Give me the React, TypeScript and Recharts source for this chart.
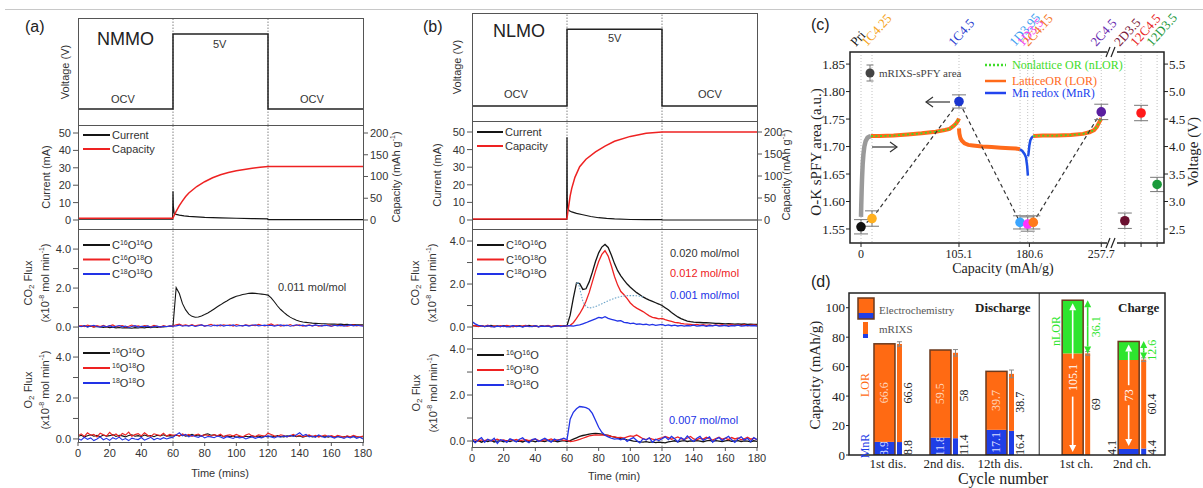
import React from 'react';
import {
  LineChart,
  Line,
  XAxis,
  YAxis,
  ReferenceLine,
  ComposedChart,
  Scatter,
  ErrorBar,
  Bar,
} from 'recharts';

const SANS = '"Liberation Sans", Arial, Helvetica, sans-serif';
const SERIF = '"Liberation Serif", "Times New Roman", Times, serif';
const INK = '#333';
const FRAME = '#555';
const BLACK = '#151515';
const RED = '#ee2222';
const BLUE = '#2233e6';

// ---------- (a) / (b) DEMS traces, sampled every 2 min
const FLUX_T = [
  0, 2, 4, 6, 8, 10, 12, 14, 16, 18, 20, 22, 24, 26, 28, 30, 32, 34, 36, 38, 40, 42, 44, 46, 48, 50, 52, 54, 56, 58,
  60, 62, 64, 66, 68, 70, 72, 74, 76, 78, 80, 82, 84, 86, 88, 90, 92, 94, 96, 98, 100, 102, 104, 106, 108, 110, 112,
  114, 116, 118, 120, 122, 124, 126, 128, 130, 132, 134, 136, 138, 140, 142, 144, 146, 148, 150, 152, 154, 156, 158,
  160, 162, 164, 166, 168, 170, 172, 174, 176, 178, 180,
];
const TIME_TICKS = [0, 20, 40, 60, 80, 100, 120, 140, 160, 180];
const GUIDE_T = [60, 120];

const STEP_T = [0, 60, 120, 180];
const STEP_V = [0, 1, 0, 0];

// NMMO
const CUR_A_T = [0, 59.8, 60, 60.2, 60.6, 61, 62, 64, 67, 70, 75, 80, 90, 100, 110, 119.8, 120, 180];
const CUR_A = [0.5, 0.5, 16.5, 8, 4.5, 3.6, 3.2, 2.8, 2.4, 2.1, 1.8, 1.5, 1.2, 1.0, 0.8, 0.6, 0.2, 0.2];
const CAP_A_T = [0, 59.8, 60, 62, 64, 66, 68, 70, 75, 80, 85, 90, 95, 100, 105, 110, 115, 120, 180];
const CAP_A = [4, 4, 5, 20, 33, 44, 54, 62, 77, 88, 97, 104, 109, 113, 116, 119, 121, 123, 123];

const A_CO2_44 = [
  0.05, 0.03, 0.06, 0.02, 0.04, 0.01, 0.03, 0.0, -0.02, 0.01, -0.03, -0.01, -0.04, -0.02, -0.05, -0.03, -0.04, -0.06,
  -0.03, -0.05, -0.02, -0.04, -0.01, -0.03, 0.0, -0.02, 0.02, 0.0, 0.03, 0.04, 0.05,
  2.02, 1.72, 1.2, 0.88, 0.66, 0.55, 0.5, 0.52, 0.57, 0.64, 0.72, 0.82, 0.93, 1.04, 1.14, 1.25, 1.34, 1.44, 1.51, 1.58,
  1.62, 1.67, 1.7, 1.73, 1.74, 1.73, 1.71, 1.69, 1.67, 1.64,
  1.5, 1.3, 1.08, 0.9, 0.75, 0.62, 0.51, 0.42, 0.35, 0.3, 0.26, 0.24, 0.22, 0.2, 0.19, 0.18, 0.17, 0.17, 0.16, 0.15,
  0.16, 0.14, 0.15, 0.13, 0.14, 0.12, 0.13, 0.12, 0.11, 0.12,
];
const A_CO2_46 = [
  0.04, 0.08, 0.02, 0.1, 0.05, 0.0, 0.07, 0.03, 0.09, 0.01, 0.06, 0.11, 0.02, 0.05, 0.08, 0.0, 0.04, 0.1, 0.03, 0.06,
  0.01, 0.08, 0.05, 0.02, 0.09, 0.04, 0.0, 0.07, 0.03, 0.05, 0.06,
  0.12, 0.15, 0.08, 0.11, 0.07, 0.13, 0.06, 0.1, 0.12, 0.05, 0.09, 0.14, 0.07, 0.1, 0.06, 0.12, 0.08, 0.11, 0.05, 0.13,
  0.09, 0.06, 0.12, 0.08, 0.1, 0.07, 0.14, 0.09, 0.06, 0.11,
  0.16, 0.08, 0.12, 0.05, 0.1, 0.07, 0.13, 0.06, 0.09, 0.11, 0.05, 0.08, 0.12, 0.06, 0.1, 0.04, 0.09, 0.07, 0.11, 0.05,
  0.08, 0.1, 0.06, 0.09, 0.04, 0.08, 0.11, 0.06, 0.09, 0.07,
];
const A_CO2_48 = [
  0.06, 0.02, 0.08, 0.0, 0.05, 0.09, 0.03, -0.01, 0.06, 0.02, 0.07, 0.0, 0.04, 0.08, 0.01, 0.05, -0.02, 0.03, 0.07, 0.0,
  0.04, 0.02, 0.06, -0.01, 0.03, 0.05, 0.0, 0.04, 0.02, 0.06, 0.04,
  0.06, 0.1, 0.04, 0.08, 0.05, 0.09, 0.03, 0.07, 0.11, 0.05, 0.08, 0.04, 0.1, 0.06, 0.12, 0.05, 0.09, 0.07, 0.11, 0.04,
  0.08, 0.06, 0.1, 0.05, 0.09, 0.12, 0.06, 0.08, 0.1, 0.07,
  0.09, 0.05, 0.08, 0.11, 0.06, 0.1, 0.04, 0.08, 0.12, 0.07, 0.1, 0.05, 0.09, 0.06, 0.11, 0.08, 0.05, 0.1, 0.07, 0.04,
  0.09, 0.06, 0.1, 0.05, 0.08, 0.11, 0.06, 0.09, 0.07, 0.05,
];
const A_O2_32 = [
  0.12, 0.18, 0.1, 0.16, 0.2, 0.13, 0.17, 0.11, 0.19, 0.14, 0.16, 0.21, 0.12, 0.18, 0.15, 0.1, 0.17, 0.2, 0.13, 0.16,
  0.12, 0.19, 0.14, 0.17, 0.11, 0.18, 0.15, 0.2, 0.13, 0.16, 0.14,
  0.18, 0.15, 0.2, 0.13, 0.17, 0.22, 0.16, 0.19, 0.14, 0.21, 0.25, 0.18, 0.2, 0.15, 0.17, 0.12, 0.16, 0.1, 0.14, 0.08,
  0.12, 0.09, 0.13, 0.1, 0.15, 0.11, 0.14, 0.09, 0.13, 0.1,
  0.14, 0.11, 0.16, 0.12, 0.1, 0.15, 0.13, 0.17, 0.11, 0.14, 0.09, 0.13, 0.16, 0.1, 0.12, 0.15, 0.11, 0.14, 0.09, 0.13,
  0.1, 0.12, 0.08, 0.11, 0.13, 0.09, 0.12, 0.1, 0.08, 0.11,
];
const A_O2_34 = [
  0.15, 0.25, 0.12, 0.3, 0.18, 0.22, 0.1, 0.28, 0.2, 0.14, 0.32, 0.16, 0.24, 0.11, 0.27, 0.19, 0.33, 0.13, 0.21, 0.26,
  0.15, 0.3, 0.18, 0.12, 0.25, 0.2, 0.16, 0.28, 0.14, 0.22, 0.18,
  0.2, 0.14, 0.25, 0.17, 0.22, 0.12, 0.19, 0.24, 0.15, 0.2, 0.18, 0.13, 0.21, 0.16, 0.23, 0.11, 0.18, 0.2, 0.14, 0.22,
  0.16, 0.1, 0.19, 0.25, 0.15, 0.12, 0.2, 0.17, 0.14, 0.28,
  0.22, 0.15, 0.12, 0.2, 0.17, 0.1, 0.16, 0.22, 0.13, 0.18, 0.11, 0.15, 0.2, 0.12, 0.17, 0.09, 0.14, 0.19, 0.12, 0.16,
  0.1, 0.18, 0.13, 0.08, 0.15, 0.11, 0.17, 0.12, 0.09, 0.14,
];
const A_O2_36 = [
  0.02, -0.06, 0.08, -0.02, 0.05, -0.08, 0.0, 0.1, -0.04, 0.03, -0.07, 0.06, -0.01, 0.09, -0.05, 0.02, -0.08, 0.04, 0.0,
  -0.03, 0.07, -0.06, 0.01, 0.08, -0.04, 0.03, -0.02, 0.06, 0.0, 0.05, 0.08,
  0.2, 0.3, 0.15, 0.22, 0.1, 0.18, 0.12, 0.08, 0.16, 0.05, 0.12, 0.1, 0.06, 0.14, 0.09, 0.03, 0.11, 0.07, 0.02, 0.1,
  0.05, 0.08, 0.0, 0.06, 0.1, 0.03, 0.08, 0.05, 0.12, 0.15,
  0.1, 0.05, 0.12, 0.08, 0.15, 0.1, 0.18, 0.12, 0.2, 0.3, 0.16, 0.22, 0.1, 0.14, 0.08, 0.2, 0.12, 0.06, 0.15, 0.1,
  0.04, 0.12, 0.08, 0.02, 0.1, 0.05, 0.12, 0.03, 0.08, 0.0,
];

// NLMO
const CUR_B_T = [0, 59.8, 60, 60.15, 60.4, 60.8, 61.5, 63, 66, 70, 75, 80, 85, 90, 100, 110, 119.8, 120, 180];
const CUR_B = [0.3, 0.3, 47, 12, 7.5, 6, 5.3, 4.6, 3.8, 3.0, 2.0, 1.3, 0.9, 0.6, 0.3, 0.2, 0.2, 0, 0];
const CAP_B_T = [0, 59.8, 60, 60.5, 61, 62, 63, 65, 68, 72, 78, 84, 90, 100, 110, 120, 180];
const CAP_B = [2, 2, 4, 18, 30, 55, 72, 97, 121, 138, 155, 168, 179, 190, 197, 200, 200];

const B_CO2_44 = [
  0.08, 0.05, 0.03, 0.06, 0.02, 0.04, 0.07, 0.03, 0.05, 0.02, 0.06, 0.04, 0.01, 0.05, 0.03, 0.06, 0.02, 0.04, 0.07,
  0.03, 0.05, 0.02, 0.06, 0.03, 0.05, 0.02, 0.04, 0.06, 0.03, 0.05, 0.06,
  0.55, 1.35, 2.05, 2.02, 1.75, 1.78, 2.1, 2.55, 3.05, 3.45, 3.72, 3.84, 3.7, 3.35, 2.95, 2.62, 2.38, 2.18, 2.0, 1.85,
  1.72, 1.6, 1.5, 1.4, 1.32, 1.25, 1.19, 1.13, 1.07, 1.0,
  0.9, 0.8, 0.68, 0.57, 0.47, 0.39, 0.33, 0.28, 0.25, 0.23, 0.22, 0.21, 0.2, 0.2, 0.19, 0.18, 0.17, 0.17, 0.16, 0.15,
  0.16, 0.15, 0.14, 0.15, 0.13, 0.14, 0.12, 0.13, 0.12, 0.12,
];
const B_CO2_46 = [
  0.04, 0.07, 0.02, 0.06, 0.03, 0.08, 0.01, 0.05, 0.03, 0.06, 0.02, 0.07, 0.04, 0.01, 0.06, 0.03, 0.05, 0.08, 0.02,
  0.04, 0.06, 0.01, 0.05, 0.03, 0.07, 0.02, 0.05, 0.04, 0.06, 0.03, 0.05,
  0.08, 0.2, 0.4, 0.62, 0.88, 1.2, 1.6, 2.1, 2.6, 3.05, 3.38, 3.55, 3.3, 2.85, 2.35, 1.95, 1.65, 1.5, 1.32, 1.12, 0.98,
  0.88, 0.8, 0.72, 0.62, 0.52, 0.45, 0.42, 0.38, 0.4,
  0.34, 0.3, 0.26, 0.22, 0.2, 0.17, 0.15, 0.14, 0.12, 0.1, 0.12, 0.09, 0.11, 0.08, 0.1, 0.07, 0.1, 0.08, 0.11, 0.07,
  0.09, 0.12, 0.07, 0.1, 0.08, 0.11, 0.06, 0.09, 0.1, 0.08,
];
const B_CO2_48 = [
  0.25, 0.15, 0.08, 0.05, 0.02, 0.06, 0.03, 0.0, 0.04, 0.02, 0.05, 0.01, 0.03, 0.06, 0.02, 0.04, 0.0, 0.05, 0.03, 0.02,
  0.06, 0.01, 0.04, 0.03, 0.05, 0.0, 0.03, 0.06, 0.02, 0.04, 0.05,
  0.06, 0.04, 0.08, 0.1, 0.15, 0.2, 0.26, 0.32, 0.38, 0.45, 0.42, 0.48, 0.4, 0.36, 0.32, 0.28, 0.3, 0.22, 0.2, 0.16,
  0.18, 0.13, 0.15, 0.11, 0.13, 0.09, 0.12, 0.08, 0.1, 0.12,
  0.07, 0.1, 0.06, 0.09, 0.05, 0.08, 0.04, 0.07, 0.05, 0.09, 0.04, 0.06, 0.08, 0.03, 0.07, 0.05, 0.09, 0.04, 0.06, 0.08,
  0.03, 0.07, 0.05, 0.09, 0.04, 0.06, 0.08, 0.05, 0.07, 0.04,
];
// deconvolution of the C16O16O trace (dotted)
const B_FIT_T = [66, 67, 68, 70, 72, 74, 78, 82, 86, 90, 94, 98, 102, 105, 108];
const B_FIT = [2.0, 2.1, 1.8, 1.2, 0.95, 0.88, 0.95, 1.08, 1.22, 1.34, 1.42, 1.46, 1.46, 1.45, 1.4];

const B_O2_32 = [
  0.0, -0.03, 0.02, -0.05, 0.01, -0.02, 0.03, -0.04, 0.0, 0.02, -0.03, 0.01, -0.02, 0.03, -0.01, 0.0, -0.04, 0.02, -0.01,
  0.01, -0.03, 0.02, 0.0, -0.02, 0.03, -0.01, 0.01, -0.03, 0.0, 0.02, -0.02,
  0.02, 0.08, 0.14, 0.2, 0.24, 0.27, 0.3, 0.32, 0.33, 0.32, 0.3, 0.27, 0.24, 0.2, 0.17, 0.14, 0.1, 0.08, 0.05, 0.03,
  0.0, -0.02, -0.04, -0.05, -0.03, -0.06, -0.04, -0.07, -0.05, -0.06,
  -0.08, -0.04, -0.02, 0.01, -0.03, 0.0, 0.02, -0.02, 0.01, -0.01, 0.02, 0.0, -0.03, 0.01, 0.03, -0.01, 0.02, 0.0,
  -0.02, 0.01, 0.03, -0.01, 0.0, 0.02, -0.02, 0.01, 0.0, -0.03, 0.01, -0.02,
];
const B_O2_34 = [
  0.03, 0.06, 0.0, 0.05, 0.02, 0.07, 0.01, 0.04, 0.08, 0.02, 0.05, 0.0, 0.06, 0.03, 0.07, 0.01, 0.04, 0.06, 0.02, 0.05,
  0.08, 0.03, 0.01, 0.06, 0.04, 0.09, 0.02, 0.05, 0.07, 0.03, 0.04,
  -0.02, 0.0, 0.03, 0.07, 0.12, 0.17, 0.22, 0.25, 0.27, 0.26, 0.27, 0.25, 0.24, 0.2, 0.18, 0.15, 0.16, 0.13, 0.18, 0.22,
  0.2, 0.26, 0.18, 0.1, 0.06, 0.12, 0.08, 0.05, 0.1, 0.14,
  0.2, 0.15, 0.08, 0.12, 0.18, 0.1, 0.06, 0.13, 0.2, 0.09, 0.05, 0.12, 0.08, 0.16, 0.1, 0.04, 0.11, 0.17, 0.08, 0.12,
  0.06, 0.15, 0.09, 0.13, 0.05, 0.1, 0.16, 0.08, 0.12, 0.06,
];
const B_O2_36 = [
  0.1, -0.08, 0.05, 0.15, -0.05, 0.08, 0.0, 0.12, -0.1, 0.06, 0.02, -0.06, 0.1, 0.04, -0.04, 0.08, 0.14, 0.0, -0.07,
  0.06, 0.1, -0.02, 0.05, 0.12, 0.03, -0.05, 0.09, 0.02, 0.07, 0.12, 0.05,
  0.95, 1.25, 1.4, 1.5, 1.48, 1.45, 1.38, 1.2, 0.9, 0.6, 0.38, 0.25, 0.18, 0.12, 0.08, 0.1, 0.05, 0.12, -0.02, 0.08,
  0.15, 0.02, -0.08, 0.1, 0.04, 0.14, -0.05, 0.08, 0.02, 0.1,
  0.18, 0.06, 0.2, 0.1, -0.04, 0.15, 0.05, 0.22, 0.08, -0.02, 0.12, 0.2, 0.03, 0.1, 0.18, -0.05, 0.08, 0.15, 0.02, 0.12,
  0.2, 0.05, -0.06, 0.1, 0.18, 0.04, 0.12, -0.03, 0.15, 0.06,
];

// ---------- (c) O-K sPFY area and voltage profile
const POINT_LABELS = ['Pri', '1C4.25', '1C4.5', '1D3.95', '1D3.5', '2C4.15', '2C4.5', '2D3.5', '12C4.5', '12D3.5'];
const POINT_POS = [0, 11.8, 105.1, 170.6, 178.8, 184.8, 257.7, 283, 300.4, 317.6];
const POINT_AREA = [1.554, 1.569, 1.782, 1.562, 1.559, 1.562, 1.763, 1.565, 1.761, 1.631];
const POINT_ERR = [0.013, 0.014, 0.012, 0.012, 0.013, 0.012, 0.014, 0.014, 0.014, 0.013];
const POINT_FILL = ['#111', '#ffb020', '#1a35d0', '#3aa5ff', '#ff33ff', '#ff7a1a', '#5a1fa0', '#6a1030', '#ff1a1a', '#1a9a3a'];
const POINT_TEXT = ['#111', '#f5a31a', '#2b3fd0', '#3fa0f0', '#f03cf0', '#f57a2a', '#6a2bb0', '#7a1a3a', '#e82828', '#1f9a40'];
const PATH_COUNT = 7; // samples joined by the dashed guide

const CAP_LABELS = [0, 105.1, 180.6, 257.7];
const CAP_TICKS = [0, 105.1, 180.6, 257.7, 283, 300.4, 317.6];
const AREA_TICKS = [1.55, 1.6, 1.65, 1.7, 1.75, 1.8, 1.85];
const VOLT_TICKS = [2.5, 3, 3.5, 4, 4.5, 5, 5.5];

const V_GRAY_C = [0, 0.3, 0.7, 1.2, 1.8, 2.6, 3.6, 5, 7, 9, 10.7];
const V_GRAY = [2.72, 2.95, 3.2, 3.45, 3.68, 3.86, 4.0, 4.1, 4.16, 4.18, 4.19];
const V_CH1_C = [10.7, 20, 35, 50, 65, 80, 90, 95, 99, 102, 104, 105.1];
const V_CH1 = [4.19, 4.19, 4.2, 4.22, 4.24, 4.27, 4.3, 4.32, 4.37, 4.42, 4.47, 4.51];
const V_DIS1_C = [105.1, 105.5, 106.5, 108, 111, 115, 120, 130, 140, 150, 160, 166, 170.5];
const V_DIS1 = [4.33, 4.24, 4.16, 4.11, 4.06, 4.03, 4.02, 4.0, 3.99, 3.98, 3.97, 3.965, 3.95];
const V_MNR1_C = [170.5, 173, 175.5, 177, 178.2, 179];
const V_MNR1 = [3.95, 3.92, 3.86, 3.8, 3.65, 3.47];
const V_MNR2_C = [179, 179.6, 180.6, 181.6, 183, 184.8];
const V_MNR2 = [3.82, 3.86, 4.02, 4.11, 4.16, 4.19];
const V_CH2_C = [184.8, 195, 210, 225, 238, 245, 250, 253, 255.5, 257.7];
const V_CH2 = [4.19, 4.2, 4.2, 4.21, 4.23, 4.26, 4.3, 4.36, 4.44, 4.51];

// ---------- (d) capacity decomposition
const CYCLES = ['1st dis.', '2nd dis.', '12th dis.', '1st ch.', '2nd ch.'];
const CYCLE_POS = [1, 2, 3, 4.36, 5.36];
const PHASE = ['dis', 'dis', 'dis', 'ch', 'ch'];
const EC_MNR = [8.9, 11.8, 17.1, 0, 4.1];
const EC_LOR = [66.6, 59.5, 39.7, 69, 60.4];
const EC_NLOR = [0, 0, 0, 36.1, 12.6];
const RX_MNR = [8.8, 11.4, 16.4, 0, 4.4];
const RX_LOR = [66.6, 58, 38.7, 69, 60.4];
const RX_ERR = [1.5, 2.2, 2.6, 1.2, 1.2];
const DIVIDER = 3.7;

const BAR_ORANGE = '#ff6a13';
const BAR_BLUE = '#1f3ee6';
const BAR_GREEN = '#2ee52e';
const BAR_EDGE = '#6b3a1e';
const LOR_LINE = '#ff6a1a';
const NLOR_LINE = '#3fdc2a';

const zip = (ts: number[], vs: number[]) => vs.map((v, i) => ({ t: ts[i], v }));
const capRows = (cs: number[], vs: number[]) => vs.map((v, i) => ({ c: cs[i], v }));

const LW = 40;
const RW = 40;
const TICK = { fontSize: 11, fill: INK, fontFamily: SANS };
const fluxFmt = (v: number) => (v % 2 === 0 ? v.toFixed(1) : '');

function Strip({ l, t, r, b, rw = 0, bh = 0, pr = 0, children }: any) {
  return (
    <div style={{ position: 'absolute', left: l - LW, top: t }}>
      <LineChart
        width={r - l + LW + rw + pr}
        height={b - t + bh}
        margin={{ top: 0, right: pr, bottom: 0, left: 0 }}
      >
        {children}
      </LineChart>
    </div>
  );
}

const timeAxis = (show: boolean) => (
  <XAxis
    dataKey="t"
    type="number"
    domain={[0, 180]}
    allowDataOverflow
    hide={!show}
    height={show ? 26 : 0}
    ticks={TIME_TICKS}
    interval={0}
    tick={TICK}
    tickSize={4}
    tickMargin={3}
    tickLine={{ stroke: FRAME }}
    axisLine={false}
  />
);

const leftAxis = (domain: number[], ticks?: number[], fmt?: (v: number) => string) => (
  <YAxis
    yAxisId="l"
    width={LW}
    type="number"
    domain={domain}
    allowDataOverflow
    ticks={ticks}
    interval={0}
    tickFormatter={fmt}
    tick={ticks ? TICK : false}
    tickLine={ticks ? { stroke: FRAME } : false}
    axisLine={false}
    tickSize={5}
    tickMargin={2}
  />
);

const guides = () =>
  GUIDE_T.map((x) => (
    <ReferenceLine key={`g${x}`} yAxisId="l" x={x} stroke="#666" strokeDasharray="1.5 1.5" strokeWidth={0.8} />
  ));

const trace = (key: string, rows: any[], color: string, width = 1.1, yAxisId = 'l', extra: any = {}) => (
  <Line
    key={key}
    yAxisId={yAxisId}
    data={rows}
    dataKey="v"
    stroke={color}
    strokeWidth={width}
    dot={false}
    isAnimationActive={false}
    type="linear"
    {...extra}
  />
);

// ---------- small SVG helpers
function VText({ x, y, size = 11, color = INK, family = SANS, weight = 'normal', children }: any) {
  return (
    <text
      x={x}
      y={y}
      transform={`rotate(-90 ${x} ${y})`}
      textAnchor="middle"
      dominantBaseline="central"
      fontSize={size}
      fill={color}
      fontFamily={family}
      fontWeight={weight}
    >
      {children}
    </text>
  );
}

function IsoText({ x, y, parts, color = INK }: any) {
  let up = false;
  return (
    <text x={x} y={y} fontSize={11} fill={color} fontFamily={SANS}>
      {parts.map(([s, sup]: [string, boolean], k: number) => {
        const dy = sup && !up ? -4 : !sup && up ? 4 : 0;
        up = sup;
        return (
          <tspan key={k} dy={dy} fontSize={sup ? 7 : 11}>
            {s}
          </tspan>
        );
      })}
    </text>
  );
}

function Key({ x, y, color, parts }: any) {
  return (
    <g>
      <line x1={x} y1={y} x2={x + 27} y2={y} stroke={color} strokeWidth={2} />
      <IsoText x={x + 29} y={y + 4} parts={parts} />
    </g>
  );
}

function FluxLabel({ x, y, gas }: any) {
  return (
    <g>
      <VText x={x} y={y}>
        {gas}
        <tspan dy={3} fontSize={8}>
          2
        </tspan>
        <tspan dy={-3}> Flux</tspan>
      </VText>
      <VText x={x + 17} y={y}>
        (x10
        <tspan dy={-4} fontSize={7}>
          -8
        </tspan>
        <tspan dy={4}> mol min</tspan>
        <tspan dy={-4} fontSize={7}>
          -1
        </tspan>
        <tspan dy={4}>)</tspan>
      </VText>
    </g>
  );
}

const P = (s: string): [string, boolean] => [s, true];
const N = (s: string): [string, boolean] => [s, false];
const K_CO2 = [
  [N('C'), P('16'), N('O'), P('16'), N('O')],
  [N('C'), P('16'), N('O'), P('18'), N('O')],
  [N('C'), P('18'), N('O'), P('18'), N('O')],
];
const K_O2 = [
  [P('16'), N('O'), P('16'), N('O')],
  [P('16'), N('O'), P('18'), N('O')],
  [P('18'), N('O'), P('18'), N('O')],
];
const KEY_COLORS = [BLACK, RED, BLUE];

// ---------- (c) custom pieces
function TopTick(props: any) {
  const { x, y, payload } = props;
  const i = POINT_POS.indexOf(payload.value);
  if (i < 0) return <g />;
  const px = x - 5;
  return (
    <text x={px} y={y} transform={`rotate(-48 ${px} ${y})`} fontSize={13} fill={POINT_TEXT[i]} fontFamily={SERIF}>
      {POINT_LABELS[i]}
    </text>
  );
}

const SampleDot = (p: any) => <circle cx={p.cx} cy={p.cy} r={4.8} fill={POINT_FILL[p.payload.k]} />;

// ---------- (d) custom pieces
function VLabel({ x, y, color, anchor = 'middle', children }: any) {
  return (
    <text
      x={x}
      y={y}
      transform={`rotate(-90 ${x} ${y})`}
      textAnchor={anchor}
      dominantBaseline="central"
      fontSize={12}
      fill={color}
      fontFamily={SERIF}
    >
      {children}
    </text>
  );
}

function Arrow({ x, from, to, color }: any) {
  const dir = to > from ? 1 : -1;
  const hl = 7;
  return (
    <g>
      <line x1={x} y1={from} x2={x} y2={to - dir * hl} stroke={color} strokeWidth={1.6} />
      <polygon points={`${x},${to} ${x - 3.5},${to - dir * hl} ${x + 3.5},${to - dir * hl}`} fill={color} />
    </g>
  );
}

function segBox(p: any) {
  const hh = p.height || 0;
  return { x: p.x, y: hh < 0 ? p.y + hh : p.y, w: p.width, h: Math.abs(hh) };
}

function ecMnRShape(p: any) {
  const { x, y, w, h } = segBox(p);
  const i = p.payload.i;
  const v = EC_MNR[i];
  if (!v || !h) return <g />;
  return (
    <g>
      <rect x={x} y={y} width={w} height={h} fill={BAR_BLUE} />
      {PHASE[i] === 'dis' ? (
        <VLabel x={x + w / 2} y={y + h / 2} color="#d8ddff">
          {v}
        </VLabel>
      ) : (
        <VLabel x={x - 6} y={y + h} anchor="start" color="#222">
          {v}
        </VLabel>
      )}
    </g>
  );
}

function ecLORShape(p: any) {
  const { x, y, w, h } = segBox(p);
  const i = p.payload.i;
  const v = EC_LOR[i];
  if (!v || !h) return <g />;
  const px = h / v;
  return (
    <g>
      <rect x={x} y={y} width={w} height={h} fill={BAR_ORANGE} />
      {PHASE[i] === 'dis' && (
        <VLabel x={x + w / 2} y={y + h / 2} color="#ffd6bd">
          {v}
        </VLabel>
      )}
      {EC_NLOR[i] === 0 && (
        <rect x={x} y={y} width={w} height={(EC_MNR[i] + v) * px} fill="none" stroke={BAR_EDGE} strokeWidth={1.5} />
      )}
    </g>
  );
}

function ecNLORShape(p: any) {
  const { x, y, w, h } = segBox(p);
  const i = p.payload.i;
  const v = EC_NLOR[i];
  if (!v || !h) return <g />;
  const px = h / v;
  const spanB = y + (EC_LOR[i] + v) * px;
  const cx = x + w / 2;
  const cy = (y + spanB) / 2;
  const total = +(EC_LOR[i] + v).toFixed(1);
  const half = String(total).length * 3 + 4;
  return (
    <g>
      <rect x={x} y={y} width={w} height={h} fill={BAR_GREEN} />
      <Arrow x={cx} from={cy - half} to={y + 3} color="#fff" />
      <Arrow x={cx} from={cy + half} to={spanB - 3} color="#fff" />
      <VLabel x={cx} y={cy} color="#fff">
        {total}
      </VLabel>
      <rect
        x={x}
        y={y}
        width={w}
        height={(EC_MNR[i] + EC_LOR[i] + v) * px}
        fill="none"
        stroke={BAR_EDGE}
        strokeWidth={1.5}
      />
    </g>
  );
}

function rxMnRShape(p: any) {
  const { x, y, w, h } = segBox(p);
  const i = p.payload.i;
  const v = RX_MNR[i];
  if (!v || !h) return <g />;
  return (
    <g>
      <rect x={x} y={y} width={w} height={h} fill={BAR_BLUE} />
      <VLabel x={x + w + 6} y={y + h} anchor="start" color="#222">
        {v}
      </VLabel>
    </g>
  );
}

function rxLORShape(p: any) {
  const { x, y, w, h } = segBox(p);
  const i = p.payload.i;
  const v = RX_LOR[i];
  if (!v || !h) return <g />;
  const e = (RX_ERR[i] * h) / v;
  const cx = x + w / 2;
  return (
    <g>
      <rect x={x} y={y} width={w} height={h} fill={BAR_ORANGE} />
      <line x1={cx} y1={y - e} x2={cx} y2={y + e} stroke="#888" strokeWidth={1} />
      <line x1={cx - 2.5} y1={y - e} x2={cx + 2.5} y2={y - e} stroke="#888" strokeWidth={1} />
      <line x1={cx - 2.5} y1={y + e} x2={cx + 2.5} y2={y + e} stroke="#888" strokeWidth={1} />
      <VLabel x={x + w + 6} y={y + h / 2} color="#222">
        {v}
      </VLabel>
    </g>
  );
}

function rxGapShape(p: any) {
  const { x, y, w, h } = segBox(p);
  const i = p.payload.i;
  const v = EC_NLOR[i];
  if (!v || !h) return <g />;
  const cx = x + w / 2;
  const mid = y + h / 2;
  return (
    <g>
      <Arrow x={cx} from={mid} to={y} color={BAR_GREEN} />
      <Arrow x={cx} from={mid} to={y + h} color={BAR_GREEN} />
      <VLabel x={x + w + 6} y={mid} color={BAR_GREEN}>
        {v}
      </VLabel>
    </g>
  );
}

const BAR_ROWS = CYCLES.map((name, i) => ({
  i,
  name,
  pos: CYCLE_POS[i],
  ecMnR: EC_MNR[i],
  ecLOR: EC_LOR[i],
  ecNLOR: EC_NLOR[i],
  rxMnR: RX_MNR[i],
  rxLOR: RX_LOR[i],
  rxGap: EC_NLOR[i],
}));

const POINT_ROWS = POINT_POS.map((x, k) => ({ k, x, a: POINT_AREA[k], err: POINT_ERR[k] }));
const PATH_ROWS = POINT_POS.slice(0, PATH_COUNT).map((c, k) => ({ c, v: POINT_AREA[k] }));

const SERIF_TICK = { fontSize: 13, fill: '#222', fontFamily: SERIF };

export default function App() {
  return (
    <div
      style={{
        position: 'absolute',
        left: 0,
        top: 0,
        width: 1203,
        height: 488,
        background: '#fff',
        overflow: 'hidden',
        fontFamily: SANS,
      }}
    >
      {/* ================= (a) NMMO ================= */}
      <Strip l={78} t={18} r={363} b={125}>
        {timeAxis(false)}
        {leftAxis([-0.213, 1.213])}
        {guides()}
        {trace('va', zip(STEP_T, STEP_V), '#222', 1.5, 'l', { type: 'stepAfter' })}
      </Strip>
      <Strip l={78} t={125} r={363} b={229} rw={RW}>
        {timeAxis(false)}
        {leftAxis([-5.17, 54.6], [0, 10, 20, 30, 40, 50])}
        <YAxis
          yAxisId="r"
          orientation="right"
          width={RW}
          type="number"
          domain={[-20.7, 218.4]}
          allowDataOverflow
          ticks={[0, 50, 100, 150, 200]}
          interval={0}
          tick={TICK}
          tickLine={{ stroke: FRAME }}
          axisLine={false}
          tickSize={5}
          tickMargin={2}
        />
        {guides()}
        {trace('ia', zip(CUR_A_T, CUR_A), BLACK, 1.2)}
        {trace('qa', zip(CAP_A_T, CAP_A), RED, 1.5, 'r')}
      </Strip>
      <Strip l={78} t={229} r={363} b={337}>
        {timeAxis(false)}
        {leftAxis([-0.51, 5.03], [0, 1, 2, 3, 4], fluxFmt)}
        {guides()}
        {trace('a44', zip(FLUX_T, A_CO2_44), BLACK)}
        {trace('a46', zip(FLUX_T, A_CO2_46), RED)}
        {trace('a48', zip(FLUX_T, A_CO2_48), BLUE)}
      </Strip>
      <Strip l={78} t={337} r={363} b={442} bh={26} pr={14}>
        {timeAxis(true)}
        {leftAxis([-0.15, 4.98], [0, 1, 2, 3, 4], fluxFmt)}
        {guides()}
        {trace('a32', zip(FLUX_T, A_O2_32), BLACK)}
        {trace('a34', zip(FLUX_T, A_O2_34), RED)}
        {trace('a36', zip(FLUX_T, A_O2_36), BLUE)}
      </Strip>

      {/* ================= (b) NLMO ================= */}
      <Strip l={472} t={13} r={757} b={121}>
        {timeAxis(false)}
        {leftAxis([-0.195, 1.21])}
        {guides()}
        {trace('vb', zip(STEP_T, STEP_V), '#222', 1.5, 'l', { type: 'stepAfter' })}
      </Strip>
      <Strip l={472} t={121} r={757} b={229} rw={RW}>
        {timeAxis(false)}
        {leftAxis([-5.11, 56.25], [0, 10, 20, 30, 40, 50])}
        <YAxis
          yAxisId="r"
          orientation="right"
          width={RW}
          type="number"
          domain={[-20.45, 225]}
          allowDataOverflow
          ticks={[0, 50, 100, 150, 200]}
          interval={0}
          tick={TICK}
          tickLine={{ stroke: FRAME }}
          axisLine={false}
          tickSize={5}
          tickMargin={2}
        />
        {guides()}
        {trace('ib', zip(CUR_B_T, CUR_B), BLACK, 1.2)}
        {trace('qb', zip(CAP_B_T, CAP_B), RED, 1.5, 'r')}
      </Strip>
      <Strip l={472} t={229} r={757} b={338}>
        {timeAxis(false)}
        {leftAxis([-0.51, 4.56], [0, 1, 2, 3, 4], fluxFmt)}
        {guides()}
        {trace('b44', zip(FLUX_T, B_CO2_44), BLACK, 1.3)}
        {trace('b46', zip(FLUX_T, B_CO2_46), RED, 1.3)}
        {trace('b48', zip(FLUX_T, B_CO2_48), BLUE, 1.3)}
        {trace('bfit', zip(B_FIT_T, B_FIT), '#6aa3c8', 1.1, 'l', { strokeDasharray: '1.5 1.5' })}
      </Strip>
      <Strip l={472} t={338} r={757} b={447} bh={26} pr={14}>
        {timeAxis(true)}
        {leftAxis([-0.26, 4.48], [0, 1, 2, 3, 4], fluxFmt)}
        {guides()}
        {trace('b32', zip(FLUX_T, B_O2_32), BLACK, 1.3)}
        {trace('b34', zip(FLUX_T, B_O2_34), RED, 1.3)}
        {trace('b36', zip(FLUX_T, B_O2_36), BLUE, 1.3)}
      </Strip>

      {/* ================= (c) sPFY vs capacity ================= */}
      <div style={{ position: 'absolute', left: 850 - 45, top: 52 - 45 }}>
        <ComposedChart width={314 + 45 + 30} height={191 + 45 + 22} margin={{ top: 0, right: 0, bottom: 0, left: 0 }}>
          <XAxis
            xAxisId="cap"
            dataKey="c"
            type="number"
            domain={[-11.8, 325]}
            allowDataOverflow
            ticks={CAP_TICKS}
            interval={0}
            tickFormatter={(v: number) => (CAP_LABELS.includes(v) ? String(v) : '')}
            tick={{ fontSize: 12, fill: '#222', fontFamily: SERIF }}
            tickLine={{ stroke: '#222' }}
            tickSize={4}
            tickMargin={2}
            axisLine={false}
            height={22}
          />
          <XAxis
            xAxisId="top"
            orientation="top"
            dataKey="x"
            type="number"
            domain={[-11.8, 325]}
            allowDataOverflow
            ticks={POINT_POS}
            interval={0}
            tick={<TopTick />}
            tickLine={false}
            axisLine={false}
            tickSize={0}
            tickMargin={5}
            height={45}
          />
          <YAxis
            yAxisId="a"
            width={45}
            type="number"
            domain={[1.5245, 1.872]}
            allowDataOverflow
            ticks={AREA_TICKS}
            interval={0}
            tickFormatter={(v: number) => v.toFixed(2)}
            tick={SERIF_TICK}
            tickLine={{ stroke: '#222' }}
            tickSize={4}
            tickMargin={1}
            axisLine={false}
          />
          <YAxis
            yAxisId="v"
            orientation="right"
            width={30}
            type="number"
            domain={[2.245, 5.72]}
            allowDataOverflow
            ticks={VOLT_TICKS}
            interval={0}
            tickFormatter={(v: number) => v.toFixed(1)}
            tick={SERIF_TICK}
            tickLine={{ stroke: '#222' }}
            tickSize={4}
            tickMargin={1}
            axisLine={false}
          />
          {POINT_POS.map((x) => (
            <ReferenceLine
              key={`p${x}`}
              xAxisId="top"
              yAxisId="a"
              x={x}
              stroke="#c2c2c2"
              strokeDasharray="1 2"
              strokeWidth={1}
            />
          ))}
          <Line xAxisId="cap" yAxisId="v" data={capRows(V_GRAY_C, V_GRAY)} dataKey="v" stroke="#9a9a9a" strokeWidth={4.5} dot={false} isAnimationActive={false} />
          <Line xAxisId="cap" yAxisId="v" data={capRows(V_CH1_C, V_CH1)} dataKey="v" stroke={LOR_LINE} strokeWidth={4} dot={false} isAnimationActive={false} />
          <Line xAxisId="cap" yAxisId="v" data={capRows(V_CH1_C, V_CH1)} dataKey="v" stroke={NLOR_LINE} strokeWidth={1.8} strokeDasharray="2 2.5" dot={false} isAnimationActive={false} />
          <Line xAxisId="cap" yAxisId="v" data={capRows(V_DIS1_C, V_DIS1)} dataKey="v" stroke={LOR_LINE} strokeWidth={4} dot={false} isAnimationActive={false} />
          <Line xAxisId="cap" yAxisId="v" data={capRows(V_MNR1_C, V_MNR1)} dataKey="v" stroke="#1f4fe8" strokeWidth={2.5} dot={false} isAnimationActive={false} />
          <Line xAxisId="cap" yAxisId="v" data={capRows(V_MNR2_C, V_MNR2)} dataKey="v" stroke="#1f4fe8" strokeWidth={2.5} dot={false} isAnimationActive={false} />
          <Line xAxisId="cap" yAxisId="v" data={capRows(V_CH2_C, V_CH2)} dataKey="v" stroke={LOR_LINE} strokeWidth={4} dot={false} isAnimationActive={false} />
          <Line xAxisId="cap" yAxisId="v" data={capRows(V_CH2_C, V_CH2)} dataKey="v" stroke={NLOR_LINE} strokeWidth={1.8} strokeDasharray="2 2.5" dot={false} isAnimationActive={false} />
          <Line xAxisId="cap" yAxisId="a" data={PATH_ROWS} dataKey="v" stroke="#333" strokeWidth={1.2} strokeDasharray="4 3" dot={false} isAnimationActive={false} />
          <Scatter xAxisId="top" yAxisId="a" data={POINT_ROWS} dataKey="a" shape={SampleDot} isAnimationActive={false}>
            <ErrorBar dataKey="err" direction="y" width={7} stroke="#777" strokeWidth={1} />
          </Scatter>
        </ComposedChart>
      </div>

      {/* ================= (d) capacity bars ================= */}
      <div style={{ position: 'absolute', left: 849 - 32, top: 293 }}>
        <ComposedChart
          width={316 + 32}
          height={162 + 24}
          data={BAR_ROWS}
          margin={{ top: 0, right: 0, bottom: 0, left: 0 }}
          barGap={2}
        >
          <XAxis
            dataKey="pos"
            type="number"
            domain={[0.304, 5.946]}
            allowDataOverflow
            ticks={CYCLE_POS}
            interval={0}
            tickFormatter={(v: number) => CYCLES[CYCLE_POS.indexOf(v)] || ''}
            tick={SERIF_TICK}
            tickLine={false}
            axisLine={false}
            tickSize={2}
            tickMargin={2}
            height={24}
          />
          <YAxis
            width={32}
            type="number"
            domain={[0, 110]}
            allowDataOverflow
            ticks={[0, 20, 40, 60, 80, 100]}
            interval={0}
            tick={SERIF_TICK}
            tickLine={{ stroke: '#222' }}
            tickSize={3}
            tickMargin={1}
            axisLine={false}
          />
          <ReferenceLine x={DIVIDER} stroke="#222" strokeWidth={1} />
          <Bar dataKey="ecMnR" stackId="ec" barSize={21} shape={ecMnRShape} isAnimationActive={false} />
          <Bar dataKey="ecLOR" stackId="ec" barSize={21} shape={ecLORShape} isAnimationActive={false} />
          <Bar dataKey="ecNLOR" stackId="ec" barSize={21} shape={ecNLORShape} isAnimationActive={false} />
          <Bar dataKey="rxMnR" stackId="rx" barSize={5} shape={rxMnRShape} isAnimationActive={false} />
          <Bar dataKey="rxLOR" stackId="rx" barSize={5} shape={rxLORShape} isAnimationActive={false} />
          <Bar dataKey="rxGap" stackId="rx" barSize={5} shape={rxGapShape} isAnimationActive={false} />
        </ComposedChart>
      </div>

      {/* ================= annotations, frames, keys ================= */}
      <svg
        width={1203}
        height={488}
        style={{ position: 'absolute', left: 0, top: 0, pointerEvents: 'none' }}
      >
        <line x1={5} y1={9.5} x2={1203} y2={9.5} stroke="#c8c8c8" strokeWidth={1} />

        {/* (a) */}
        <rect x={78.5} y={18.5} width={285} height={424} fill="none" stroke={FRAME} />
        {[125, 229, 337].map((y) => (
          <line key={`sa${y}`} x1={78} y1={y + 0.5} x2={363} y2={y + 0.5} stroke={FRAME} />
        ))}
        <text x={25} y={32} fontSize={16} fill="#222">(a)</text>
        <text x={97} y={45} fontSize={18} fill="#222">NMMO</text>
        <text x={213} y={48} fontSize={11} fill={INK}>5V</text>
        <text x={111} y={103} fontSize={11} fill={INK}>OCV</text>
        <text x={300} y={103} fontSize={11} fill={INK}>OCV</text>
        <VText x={65} y={72}>Voltage (V)</VText>
        <VText x={46} y={177}>Current (mA)</VText>
        <VText x={396} y={177}>
          Capacity (mAh g<tspan dy={-4} fontSize={7}>-1</tspan>
          <tspan dy={4}>)</tspan>
        </VText>
        <FluxLabel x={28} y={283} gas="CO" />
        <FluxLabel x={28} y={390} gas="O" />
        <text x={220} y={477} fontSize={11} fill={INK} textAnchor="middle">Time (mins)</text>
        <text x={278} y={291} fontSize={11} fill={INK}>0.011 mol/mol</text>
        <line x1={83} y1={135} x2={110} y2={135} stroke={BLACK} strokeWidth={2} />
        <text x={112} y={139} fontSize={11} fill={INK}>Current</text>
        <line x1={83} y1={149} x2={110} y2={149} stroke={RED} strokeWidth={2} />
        <text x={112} y={153} fontSize={11} fill={INK}>Capacity</text>
        {K_CO2.map((parts, k) => (
          <Key key={`ka${k}`} x={83} y={245 + k * 14.5} color={KEY_COLORS[k]} parts={parts} />
        ))}
        {K_O2.map((parts, k) => (
          <Key key={`koa${k}`} x={83} y={353 + k * 15} color={KEY_COLORS[k]} parts={parts} />
        ))}

        {/* (b) */}
        <rect x={472.5} y={13.5} width={285} height={434} fill="none" stroke={FRAME} />
        {[121, 229, 338].map((y) => (
          <line key={`sb${y}`} x1={472} y1={y + 0.5} x2={757} y2={y + 0.5} stroke={FRAME} />
        ))}
        <text x={423} y={32} fontSize={16} fill="#222">(b)</text>
        <text x={493} y={37} fontSize={18} fill="#222">NLMO</text>
        <text x={608} y={42} fontSize={11} fill={INK}>5V</text>
        <text x={504} y={98} fontSize={11} fill={INK}>OCV</text>
        <text x={698} y={98} fontSize={11} fill={INK}>OCV</text>
        <VText x={457} y={67}>Voltage (V)</VText>
        <VText x={437} y={175}>Current (mA)</VText>
        <VText x={786} y={175}>
          Capacity (mAh g<tspan dy={-4} fontSize={7}>-1</tspan>
          <tspan dy={4}>)</tspan>
        </VText>
        <FluxLabel x={415} y={283} gas="CO" />
        <FluxLabel x={416} y={393} gas="O" />
        <text x={614} y={480} fontSize={11} fill={INK} textAnchor="middle">Time (min)</text>
        <text x={670} y={257} fontSize={11} fill={INK}>0.020 mol/mol</text>
        <text x={670} y={277} fontSize={11} fill={RED}>0.012 mol/mol</text>
        <text x={670} y={299} fontSize={11} fill={BLUE}>0.001 mol/mol</text>
        <text x={669} y={424} fontSize={11} fill={BLUE}>0.007 mol/mol</text>
        <line x1={477} y1={132} x2={503} y2={132} stroke={BLACK} strokeWidth={2} />
        <text x={505} y={136} fontSize={11} fill={INK}>Current</text>
        <line x1={477} y1={146} x2={503} y2={146} stroke={RED} strokeWidth={2} />
        <text x={505} y={150} fontSize={11} fill={INK}>Capacity</text>
        {K_CO2.map((parts, k) => (
          <Key key={`kb${k}`} x={477} y={245 + k * 14.5} color={KEY_COLORS[k]} parts={parts} />
        ))}
        {K_O2.map((parts, k) => (
          <Key key={`kob${k}`} x={477} y={355 + k * 15} color={KEY_COLORS[k]} parts={parts} />
        ))}

        {/* (c) */}
        <rect x={850} y={52} width={314} height={191} fill="none" stroke="#222" strokeWidth={1.5} />
        <text x={811} y={30} fontSize={16} fill="#222">(c)</text>
        <VText x={816} y={152} size={15} color="#222" family={SERIF}>O-K sPFY area (a.u.)</VText>
        <VText x={1193} y={152} size={15} color="#222" family={SERIF}>Voltage (V)</VText>
        <text x={1003} y={273} fontSize={14} fill="#222" textAnchor="middle" fontFamily={SERIF}>
          Capacity (mAh/g)
        </text>
        {[52, 243].map((y) => (
          <g key={`brk${y}`}>
            <rect x={1107} y={y - 5} width={10} height={10} fill="#fff" />
            <line x1={1106} y1={y + 5} x2={1110} y2={y - 5} stroke="#222" strokeWidth={1.2} />
            <line x1={1111} y1={y + 5} x2={1115} y2={y - 5} stroke="#222" strokeWidth={1.2} />
          </g>
        ))}
        <line x1={870} y1={65} x2={870} y2={81} stroke="#777" />
        <line x1={866.5} y1={65} x2={873.5} y2={65} stroke="#777" />
        <line x1={866.5} y1={81} x2={873.5} y2={81} stroke="#777" />
        <circle cx={870} cy={73} r={4.5} fill="#444" />
        <text x={879} y={77} fontSize={11} fill="#444" fontFamily={SERIF}>mRIXS-sPFY area</text>
        <line x1={985} y1={65} x2={1006} y2={65} stroke={NLOR_LINE} strokeWidth={2.5} strokeDasharray="2 2" />
        <text x={1012} y={69} fontSize={12} fill={NLOR_LINE} fontFamily={SERIF}>Nonlattice OR (nLOR)</text>
        <line x1={985} y1={81} x2={1006} y2={81} stroke={LOR_LINE} strokeWidth={2.5} />
        <text x={1012} y={85} fontSize={12} fill={LOR_LINE} fontFamily={SERIF}>LatticeOR (LOR)</text>
        <line x1={985} y1={93} x2={1006} y2={93} stroke="#2244ee" strokeWidth={2.5} />
        <text x={1012} y={97} fontSize={12} fill="#2244ee" fontFamily={SERIF}>Mn redox (MnR)</text>
        <line x1={926} y1={102} x2={950} y2={102} stroke="#333" strokeWidth={1.2} />
        <polyline points="933,97 926,102 933,107" fill="none" stroke="#333" strokeWidth={1.2} />
        <line x1={872} y1={147} x2={897} y2={147} stroke="#333" strokeWidth={1.2} />
        <polyline points="890,142 897,147 890,152" fill="none" stroke="#333" strokeWidth={1.2} />

        {/* (d) */}
        <rect x={849} y={293} width={316} height={162} fill="none" stroke="#222" strokeWidth={1.5} />
        <text x={811} y={287} fontSize={16} fill="#222">(d)</text>
        <VText x={815} y={375} size={15} color="#222" family={SERIF}>Capacity (mAh/g)</VText>
        <text x={1003} y={484} fontSize={16} fill="#222" textAnchor="middle" fontFamily={SERIF}>
          Cycle number
        </text>
        <rect x={858} y={298} width={16} height={15} fill={BAR_ORANGE} />
        <rect x={858} y={313} width={16} height={6} fill={BAR_BLUE} />
        <rect x={858} y={298} width={16} height={21} fill="none" stroke={BAR_EDGE} strokeWidth={1.5} />
        <text x={879} y={314} fontSize={11} fill="#555" fontFamily={SERIF}>Electrochemistry</text>
        <rect x={863} y={322} width={5} height={12} fill={BAR_ORANGE} />
        <rect x={863} y={334} width={5} height={4} fill={BAR_BLUE} />
        <text x={879} y={333} fontSize={11} fill="#555" fontFamily={SERIF}>mRIXS</text>
        <text x={975} y={312} fontSize={13} fontWeight="bold" fill="#222" fontFamily={SERIF}>Discharge</text>
        <text x={1118} y={312} fontSize={13} fontWeight="bold" fill="#222" fontFamily={SERIF}>Charge</text>
        <VText x={865} y={385} size={12} color={BAR_ORANGE} family={SERIF}>LOR</VText>
        <VText x={865} y={446} size={12} color={BAR_BLUE} family={SERIF}>MnR</VText>
        <VText x={1056} y={331} size={12} color={BAR_GREEN} family={SERIF}>nLOR</VText>
      </svg>
    </div>
  );
}
